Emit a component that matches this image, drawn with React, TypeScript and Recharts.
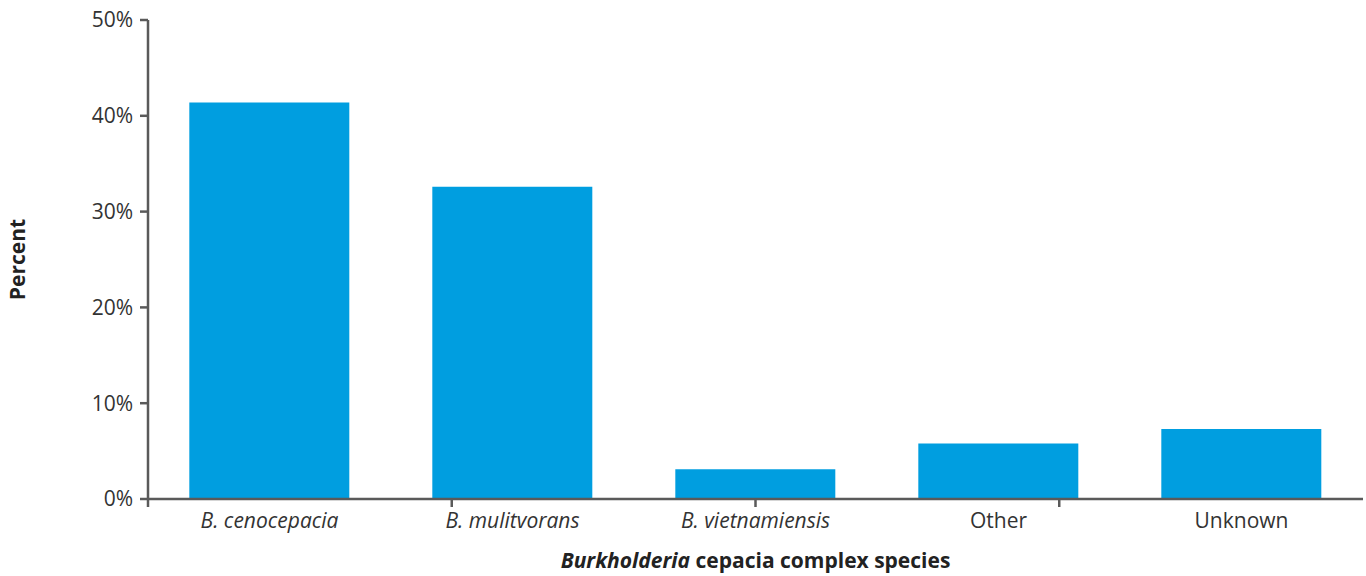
import { BarChart, Bar, XAxis, YAxis, Label } from 'recharts'

const species = ['B. cenocepacia', 'B. mulitvorans', 'B. vietnamiensis', 'Other', 'Unknown']
const percent = [41.4, 32.6, 3.1, 5.8, 7.3]
const italicNames = ['B. cenocepacia', 'B. mulitvorans', 'B. vietnamiensis']
const yTicks = [0, 10, 20, 30, 40, 50]
const boundaryTicks = [0, 1, 2, 3, 4, 5]

const rows = species.map((name, i) => ({ name, value: percent[i] }))

const font = '"Open Sans", sans-serif'
const axisColor = '#5a5a5a'
const textColor = '#333'

// eslint-disable-next-line @typescript-eslint/no-explicit-any
function SpeciesTick({ x, y, payload }: any) {
  const italic = italicNames.includes(payload.value)
  return (
    <text
      x={x}
      y={y + 5}
      dy="0.71em"
      textAnchor="middle"
      fill={textColor}
      fontSize={21}
      fontFamily={font}
      fontStyle={italic ? 'italic' : 'normal'}
    >
      {payload.value}
    </text>
  )
}

// eslint-disable-next-line @typescript-eslint/no-explicit-any
function XTitle({ viewBox }: any) {
  const cx = viewBox.x + viewBox.width / 2
  return (
    <text x={cx} y={viewBox.y + 68} textAnchor="middle" fill="#222" fontSize={21} fontWeight={700} fontFamily={font}>
      <tspan fontStyle="italic">Burkholderia</tspan> cepacia complex species
    </text>
  )
}

// eslint-disable-next-line @typescript-eslint/no-explicit-any
function YTitle({ viewBox }: any) {
  const cx = viewBox.x + 17
  const cy = viewBox.y + viewBox.height / 2
  return (
    <text
      x={cx}
      y={cy}
      transform={`rotate(-90, ${cx}, ${cy})`}
      textAnchor="middle"
      dominantBaseline="central"
      fill="#222"
      fontSize={21}
      fontWeight={700}
      fontFamily={font}
    >
      Percent
    </text>
  )
}

export default function App() {
  return (
    <div style={{ position: 'absolute', left: 0, top: 0 }}>
      <BarChart
        width={1366}
        height={576}
        data={rows}
        margin={{ top: 20, right: 3, left: 0, bottom: 0 }}
        barCategoryGap="17%"
      >
        <XAxis
          xAxisId="a-edges"
          type="number"
          domain={[0, 5]}
          ticks={boundaryTicks}
          allowDataOverflow
          height={1}
          tick={() => <g />}
          tickSize={8}
          tickLine={{ stroke: axisColor, strokeWidth: 2.5 }}
          axisLine={{ stroke: axisColor, strokeWidth: 2.5 }}
        />
        <XAxis
          xAxisId="b-cat"
          dataKey="name"
          height={76}
          axisLine={false}
          tickLine={false}
          interval={0}
          tick={<SpeciesTick />}
        >
          <Label content={<XTitle />} />
        </XAxis>
        <YAxis
          domain={[0, 50]}
          ticks={yTicks}
          width={148}
          tickFormatter={(v: number) => `${v}%`}
          tick={{ fill: textColor, fontSize: 21, fontFamily: font }}
          tickSize={8}
          tickMargin={7}
          tickLine={{ stroke: axisColor, strokeWidth: 2.5 }}
          axisLine={{ stroke: axisColor, strokeWidth: 2.5 }}
        >
          <Label content={<YTitle />} />
        </YAxis>
        <Bar xAxisId="b-cat" dataKey="value" fill="#009EE0" isAnimationActive={false} />
      </BarChart>
    </div>
  )
}
